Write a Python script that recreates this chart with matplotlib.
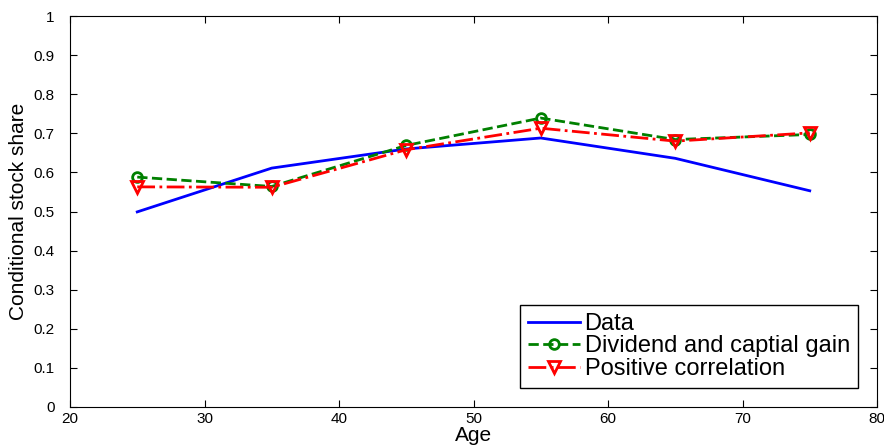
import matplotlib
matplotlib.use('Agg')
import matplotlib.pyplot as plt

plt.rcParams['font.family'] = ['Liberation Sans', 'DejaVu Sans']

age = [25, 35, 45, 55, 65, 75]
data_share = [0.499, 0.611, 0.660, 0.688, 0.636, 0.553]
dividend_share = [0.588, 0.564, 0.669, 0.739, 0.684, 0.697]
positive_share = [0.563, 0.562, 0.658, 0.713, 0.680, 0.701]

fig = plt.figure(figsize=(8.84, 4.46), dpi=100)
ax = fig.add_axes([70 / 884, 1 - 407 / 446, 807 / 884, 391 / 446])

ax.plot(age, data_share, color='blue', linewidth=2, label='Data')
ax.plot(age, dividend_share, color='green', linewidth=2, linestyle='--',
        marker='o', markersize=7, markerfacecolor='none', markeredgewidth=2,
        label='Dividend and captial gain')
ax.plot(age, positive_share, color='red', linewidth=2, linestyle='-.',
        marker='v', markersize=9, markerfacecolor='none', markeredgewidth=2,
        label='Positive correlation')

ax.set_xlim(20, 80)
ax.set_ylim(0, 1)
ax.set_xticks(range(20, 81, 10))
ax.set_yticks([i / 10 for i in range(11)])
ax.set_yticklabels(['0', '0.1', '0.2', '0.3', '0.4', '0.5', '0.6', '0.7', '0.8', '0.9', '1'])
ax.tick_params(direction='in', top=True, right=True, labelsize=11, length=5)
ax.tick_params(axis='y', pad=11)
ax.set_xlabel('Age', fontsize=15, labelpad=0)
ax.set_ylabel('Conditional stock share', fontsize=15, fontstretch='condensed', labelpad=4)

leg = ax.legend(loc='lower right', fontsize=17, fancybox=False, edgecolor='black',
                framealpha=1, handlelength=2.2, handletextpad=0.2,
                borderaxespad=0.8, labelspacing=0.02, borderpad=0.35)
leg.get_frame().set_linewidth(1)

fig.savefig('out.png', dpi=100)
